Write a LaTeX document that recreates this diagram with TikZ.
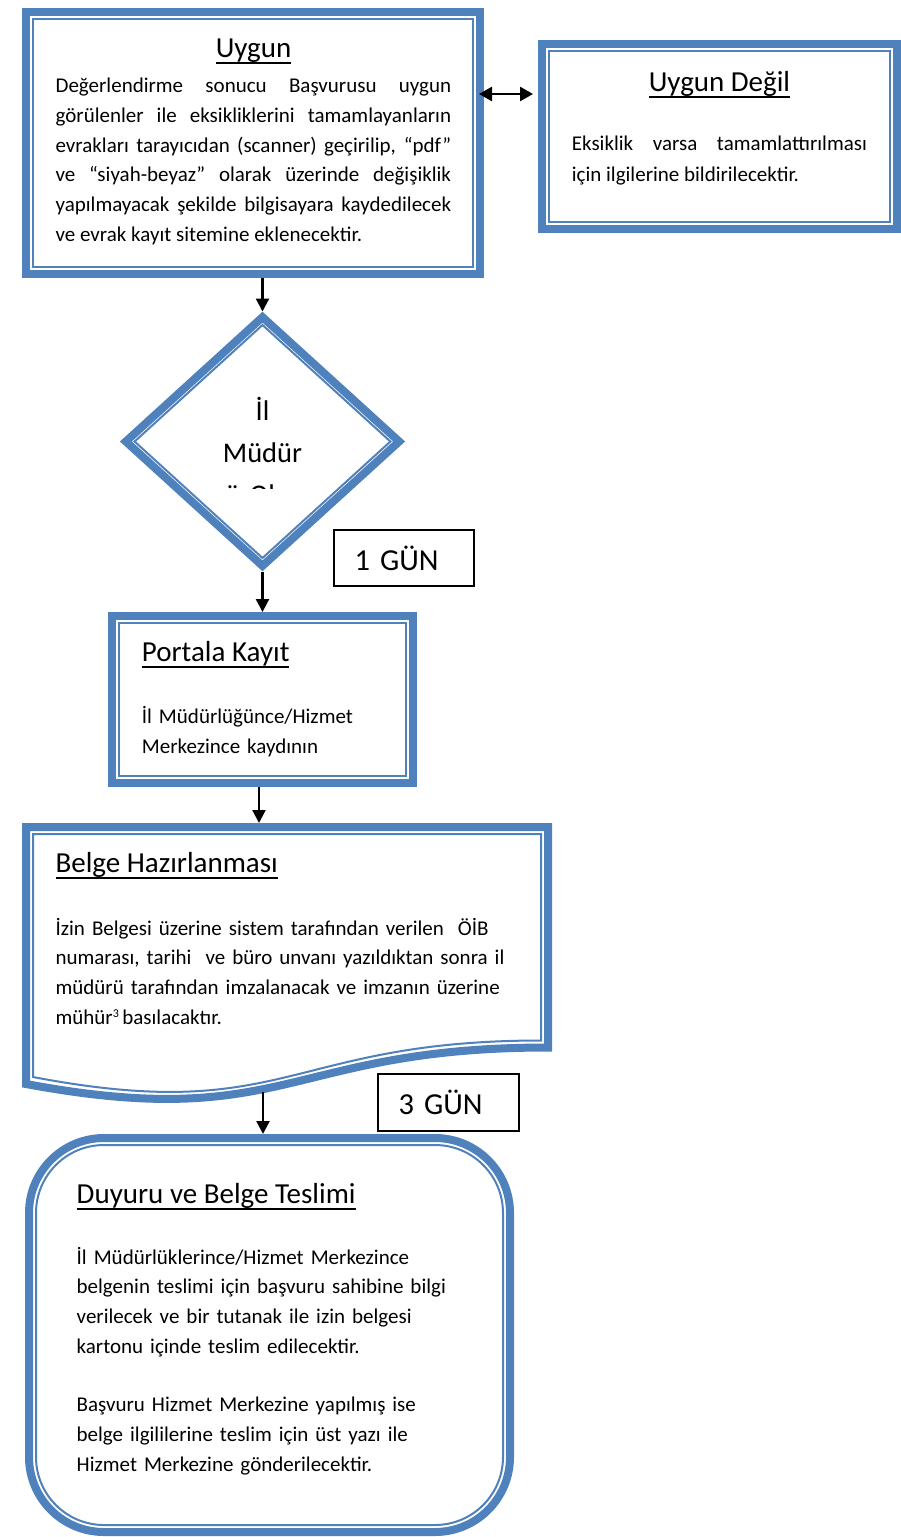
\documentclass[tikz,border=0pt]{standalone}
\usepackage{fontspec}
\setmainfont{Carlito}
\usetikzlibrary{shapes.geometric,arrows.meta,calc}

\definecolor{ublue}{RGB}{79,129,189}
\newcommand{\headfont}{\fontsize{29}{34}\selectfont}
\newcommand{\bodyfont}{\fontsize{21}{29.7}\selectfont}
\newcommand{\ulin}[1]{\setbox0\hbox{#1}\rlap{\rule[-6.3pt]{\wd0}{2pt}}\box0}
\newcommand{\innerline}[2][]{\draw[thinline,#1] ($(#2.north west)+(11pt,-11pt)$) rectangle ($(#2.south east)+(-11pt,11pt)$);}

\tikzset{
  ubox/.style={draw=ublue, line width=8pt, fill=white, inner sep=0pt},
  thinline/.style={draw=ublue, line width=2pt},
  arr/.style={-{Triangle[length=13pt,width=13pt]}, line width=2.2pt},
  dblarr/.style={{Triangle[length=13pt,width=14pt]}-{Triangle[length=13pt,width=14pt]}, line width=2.6pt},
  gunbox/.style={draw, line width=2pt, inner xsep=20.5pt, inner ysep=0pt, align=left, font=\fontsize{30.5}{36}\selectfont},
  txt/.style={anchor=base west, inner sep=0pt, font=\bodyfont},
}

\begin{document}
\begin{tikzpicture}[x=1pt,y=-1pt]
\fill[white] (0,0) rectangle (901,1537);
\useasboundingbox (0,0) rectangle (901,1537);

\node[ubox, minimum width=454pt, minimum height=262pt] (uygun) at (253,143) {};
\innerline{uygun}
\node[txt, anchor=base, font=\headfont] (uyguntitle) at (253.5,57.3) {\ulin{Uygun}};
\node[txt, text width=395.5pt, align=justify] (uygunbody) at (55.4,92.7) {Değerlendirme sonucu Başvurusu uygun\linebreak görülenler ile eksikliklerini tamamlayanların\linebreak evrakları tarayıcıdan (scanner) geçirilip, “pdf”\linebreak ve “siyah-beyaz” olarak üzerinde değişiklik\linebreak yapılmayacak şekilde bilgisayara kaydedilecek\linebreak ve evrak kayıt sitemine eklenecektir.};

\node[ubox, minimum width=355pt, minimum height=185pt] (degil) at (719.5,136.5) {};
\innerline{degil}
\node[txt, anchor=base, font=\headfont] (degiltitle) at (719.5,91.7) {\ulin{Uygun Değil}};
\node[txt, text width=295pt, align=justify, font=\fontsize{21}{31}\selectfont] (degilbody) at (571.7,150.7) {Eksiklik varsa tamamlattırılması\linebreak için ilgilerine bildirilecektir.};

\node[diamond, draw=ublue, line width=8pt, fill=white, inner sep=0pt, minimum width=276.6pt, minimum height=252pt] (dia) at (262.5,441.5) {};
\draw[thinline] ($(dia.center)+(0,-116.5)$) -- ($(dia.center)+(127.9,0)$) -- ($(dia.center)+(0,116.5)$) -- ($(dia.center)+(-127.9,0)$) -- cycle;
\begin{scope}
\clip (150,380) rectangle (380,488);
\node[anchor=base, inner sep=0pt, text width=200pt, align=center, font=\fontsize{28.5}{42}\selectfont] (diatext) at (262.5,420) {İl\\Müdür\\ü Olur};
\end{scope}

\node[gunbox, text width=99pt, minimum height=56pt] (gun1) at (404,558) {1 GÜN};

\node[ubox, minimum width=301pt, minimum height=167pt] (portala) at (262.5,699.5) {};
\innerline{portala}
\node[txt, font=\headfont] (portalatitle) at (141.7,661.7) {\ulin{Portala Kayıt}};
\node[txt, text width=260pt, align=left, font=\fontsize{21}{30}\selectfont] (portalabody) at (141.7,723) {İl Müdürlüğünce/Hizmet\\Merkezince kaydının};

\draw[ublue, line width=8pt, fill=white] (26,827) -- (548,827) -- (548,1047.5) .. controls (287,1047.5) and (287,1132.4) .. (26,1084) -- cycle;
\draw[thinline] (33,834) -- (541,834) -- (541,1040.5) .. controls (287,1040.5) and (287,1125.4) .. (33,1077) -- cycle;
\node[txt, font=\headfont] (belgetitle) at (55.4,872.7) {\ulin{Belge Hazırlanması}};
\node[txt, text width=480pt, align=left] (belge) at (55.4,935) {İzin Belgesi üzerine sistem tarafından verilen\ \ ÖİB\\numarası, tarihi\ \ ve büro unvanı yazıldıktan sonra il\\müdürü tarafından imzalanacak ve imzanın üzerine\\mühür\raisebox{7pt}{\fontsize{12}{12}\selectfont 3}\,basılacaktır.};
\coordinate (belgetop) at (259,823);
\coordinate (belgebot) at (263,1092);

\node[gunbox, text width=100pt, minimum height=57pt] (gun3) at (448.5,1102.5) {3 GÜN};

\node[ubox, rounded corners=75pt, minimum width=481pt, minimum height=394pt] (duyuru) at (269.5,1335) {};
\innerline[rounded corners=68pt]{duyuru}
\node[txt, font=\headfont] (duyurutitle) at (76.5,1203.3) {\ulin{Duyuru ve Belge Teslimi}};
\node[txt, text width=420pt, align=left] (duyurubody) at (76.5,1264) {İl Müdürlüklerince/Hizmet Merkezince\\belgenin teslimi için başvuru sahibine bilgi\\verilecek ve bir tutanak ile izin belgesi\\kartonu içinde teslim edilecektir.\\[29pt]Başvuru Hizmet Merkezine yapılmış ise\\belge ilgililerine teslim için üst yazı ile\\Hizmet Merkezine gönderilecektir.};

\draw[arr] (uygun.south -| dia.north) -- (dia.north);
\draw[arr] (dia.south) -- (dia.south |- portala.north);
\draw[arr] (portala.south -| belgetop) -- (belgetop);
\draw[arr] (belgebot) -- (belgebot |- duyuru.north);
\draw[dblarr] ($(uygun.east)+(-5pt,49pt)$) -- ($(degil.west)+(-5pt,42.5pt)$);
\end{tikzpicture}
\end{document}
